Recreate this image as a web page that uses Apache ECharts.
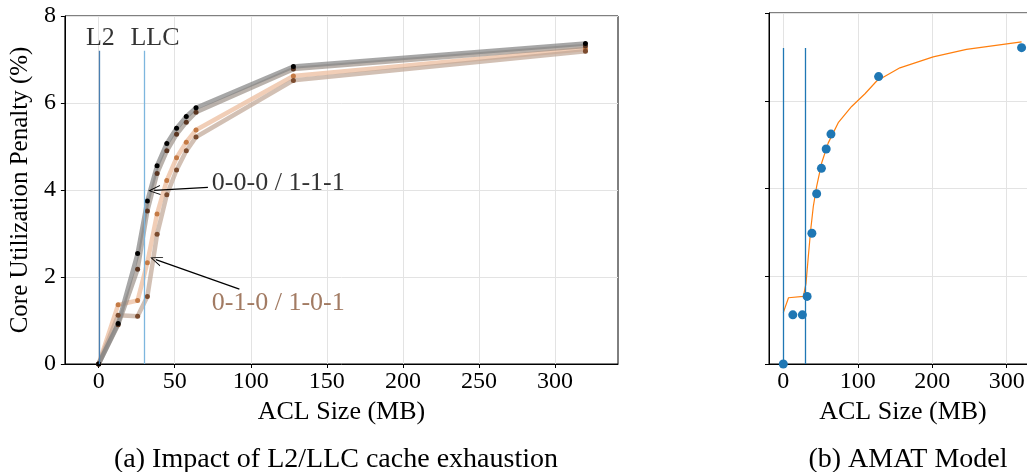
<!DOCTYPE html>
<html>
<head>
<meta charset="utf-8">
<script src="https://cdn.jsdelivr.net/npm/echarts@6/dist/echarts.min.js"></script>
<style>
  html, body { margin: 0; padding: 0; background: #fff; overflow: hidden; }
  #chart { width: 1060px; height: 472px; }
</style>
</head>
<body>
<div id="chart"></div>
<script>
// ACL sizes (MB) at which the penalty was measured
const aclSizes = [0, 12.8, 25.6, 32, 38.4, 44.8, 51.2, 57.6, 64, 128, 320];

// Core utilization penalty (%) for each placement configuration
const pen000 = [0, 0.93, 2.54, 3.75, 4.56, 5.07, 5.42, 5.69, 5.89, 6.84, 7.37];
const pen111 = [0, 0.90, 2.18, 3.52, 4.38, 4.90, 5.28, 5.56, 5.79, 6.78, 7.31];
const pen010 = [0, 1.36, 1.46, 2.33, 3.45, 4.22, 4.74, 5.10, 5.38, 6.62, 7.24];
const pen101 = [0, 1.12, 1.10, 1.55, 2.98, 3.89, 4.46, 4.90, 5.22, 6.52, 7.19];

// Measured points used by the AMAT model panel
const amatMeasured = [0, 1.12, 1.12, 1.54, 2.98, 3.88, 4.46, 4.90, 5.24, 6.55, 7.21];

// AMAT model curve
const modelX = [0, 7, 27, 30.5, 33.6, 36.8, 40.3, 44.8, 51.5, 60.4, 73.8, 91.8, 109.7, 125.4, 156.6, 201.3, 246, 320];
const modelY = [1.17, 1.51, 1.54, 1.84, 2.45, 3.06, 3.59, 4.05, 4.58, 5.04, 5.50, 5.87, 6.16, 6.45, 6.75, 7.00, 7.17, 7.34];

// Cache capacities (MB)
const cacheL2 = 0.3;
const cacheLLC = 30;
const cacheLineTop = 7.2;

// Tick labels
const xTicksA = [0, 50, 100, 150, 200, 250, 300];
const xTicksB = [0, 100, 200, 300];

const FONT = '"Liberation Serif", "DejaVu Serif", serif';
const pairs = (xs, ys) => xs.map((x, i) => [x, ys[i]]);

function penaltySeries(name, ys, lineColor, lineOpacity, dotColor) {
  return {
    name, type: 'line', xAxisIndex: 0, yAxisIndex: 0,
    data: pairs(aclSizes, ys),
    symbol: 'circle', symbolSize: 5, showSymbol: true,
    lineStyle: { color: lineColor, width: 4.5, opacity: lineOpacity },
    itemStyle: { color: dotColor },
    emphasis: { disabled: true },
    z: 3
  };
}

const arrowHead = 'path://M5,0 L10,12 L9,12 L5,2.2 L1,12 L0,12 Z';

const gridLine = { show: true, lineStyle: { color: '#e3e3e3', width: 1 } };
const axisBlack = { show: true, onZero: false, lineStyle: { color: '#000', width: 1 } };
const tickBlack = { show: true, inside: false, length: 4, lineStyle: { color: '#000' } };

const option = {
  animation: false,
  backgroundColor: '#fff',
  textStyle: { fontFamily: FONT },
  title: [
    { text: '(a) Impact of L2/LLC cache exhaustion', left: 331, top: 441, textAlign: 'center',
      textStyle: { fontFamily: FONT, fontWeight: 'normal', fontSize: 28, color: '#000' } },
    { text: '(b) AMAT Model', left: 903, top: 441, textAlign: 'center',
      textStyle: { fontFamily: FONT, fontWeight: 'normal', fontSize: 28, color: '#000' } }
  ],
  grid: [
    { left: 61, top: 16, width: 557, height: 348, show: true, borderColor: '#000', borderWidth: 1, containLabel: false },
    { left: 769, top: 13, width: 268, height: 351, show: true, borderColor: '#000', borderWidth: 1, containLabel: false }
  ],
  xAxis: [
    {
      type: 'value', gridIndex: 0, min: -22.2, max: 341.4,
      name: 'ACL Size (MB)', nameLocation: 'middle', nameGap: 31,
      nameTextStyle: { fontFamily: FONT, fontSize: 26, color: '#000' },
      axisLine: axisBlack,
      axisTick: Object.assign({ customValues: xTicksA }, tickBlack),
      axisLabel: { customValues: xTicksA, fontFamily: FONT, fontSize: 24, color: '#000', margin: 6 },
      splitLine: gridLine
    },
    {
      type: 'value', gridIndex: 1, min: -19.2, max: 340.7,
      name: 'ACL Size (MB)', nameLocation: 'middle', nameGap: 31,
      nameTextStyle: { fontFamily: FONT, fontSize: 26, color: '#000' },
      axisLine: axisBlack,
      axisTick: Object.assign({ customValues: xTicksB }, tickBlack),
      axisLabel: { customValues: xTicksB, fontFamily: FONT, fontSize: 24, color: '#000', margin: 6 },
      splitLine: gridLine
    }
  ],
  yAxis: [
    {
      type: 'value', gridIndex: 0, min: 0, max: 8, interval: 2,
      name: 'Core Utilization Penalty (%)', nameLocation: 'middle', nameGap: 29, nameRotate: 90,
      nameTextStyle: { fontFamily: FONT, fontSize: 25, color: '#000' },
      axisLine: axisBlack,
      axisTick: tickBlack,
      axisLabel: { fontFamily: FONT, fontSize: 24, color: '#000', margin: 9 },
      splitLine: gridLine
    },
    {
      type: 'value', gridIndex: 1, min: 0, max: 8, interval: 2,
      axisLine: axisBlack,
      axisTick: tickBlack,
      axisLabel: { show: false },
      splitLine: gridLine
    }
  ],
  series: [
    penaltySeries('0-1-0', pen010, '#ecbd9f', 0.75, '#c47a45'),
    penaltySeries('1-0-1', pen101, '#bfa594', 0.7, '#7b4b2e'),
    penaltySeries('1-1-1', pen111, '#958880', 0.65, '#5a3521'),
    penaltySeries('0-0-0', pen000, '#858585', 0.72, '#000000'),
    {
      // cache capacity markers and annotation arrows on panel (a)
      name: 'marks-a', type: 'line', xAxisIndex: 0, yAxisIndex: 0, data: [],
      markLine: {
        silent: true, animation: false, symbol: ['none', 'none'],
        label: { show: false },
        data: [
          [{ coord: [cacheL2, 0], lineStyle: { color: '#4a7fb1', width: 1.3, type: 'solid' } },
           { coord: [cacheL2, cacheLineTop] }],
          [{ coord: [cacheLLC, 0], lineStyle: { color: '#7db6de', width: 1.3, type: 'solid' } },
           { coord: [cacheLLC, cacheLineTop] }],
          [{ coord: [71.8, 4.06], symbol: 'none', lineStyle: { color: '#000', width: 1.2, type: 'solid' } },
           { coord: [36.5, 3.99], symbol: arrowHead, symbolSize: [10, 12] }],
          [{ coord: [92.5, 1.72], symbol: 'none', lineStyle: { color: '#000', width: 1.2, type: 'solid' } },
           { coord: [37.6, 2.40], symbol: arrowHead, symbolSize: [10, 12] }]
        ]
      },
      z: 4
    },
    {
      name: 'labels-a', type: 'scatter', xAxisIndex: 0, yAxisIndex: 0,
      symbolSize: 0, silent: true,
      data: [
        { value: [1.1, 7.49], label: { formatter: 'L2', position: 'inside', color: '#000' } },
        { value: [37, 7.49], label: { formatter: 'LLC', position: 'inside', color: '#000' } },
        { value: [74.4, 4.15], label: { formatter: '0-0-0 / 1-1-1', position: 'right', distance: 0, color: '#000' } },
        { value: [74.4, 1.40], label: { formatter: '0-1-0 / 1-0-1', position: 'right', distance: 0, color: '#8b5a3c' } }
      ],
      label: { show: true, fontFamily: FONT, fontSize: 26, textBorderWidth: 0 },
      z: 5
    },
    {
      name: 'model', type: 'line', xAxisIndex: 1, yAxisIndex: 1,
      data: pairs(modelX, modelY), showSymbol: false,
      lineStyle: { color: '#ff7f0e', width: 1.2 },
      emphasis: { disabled: true }, z: 3,
      markLine: {
        silent: true, animation: false, symbol: ['none', 'none'], label: { show: false },
        lineStyle: { color: '#1f77b4', width: 1.3, type: 'solid' },
        data: [
          [{ coord: [cacheL2, 0] }, { coord: [cacheL2, cacheLineTop] }],
          [{ coord: [cacheLLC, 0] }, { coord: [cacheLLC, cacheLineTop] }]
        ]
      }
    },
    {
      name: 'measured', type: 'scatter', xAxisIndex: 1, yAxisIndex: 1,
      data: pairs(aclSizes, amatMeasured),
      symbol: 'circle', symbolSize: 9,
      itemStyle: { color: '#1f77b4', opacity: 1 },
      emphasis: { disabled: true }, z: 4
    }
  ]
};

const chart = echarts.init(document.getElementById('chart'), null, { renderer: 'canvas' });
chart.setOption(option);
</script>
</body>
</html>
